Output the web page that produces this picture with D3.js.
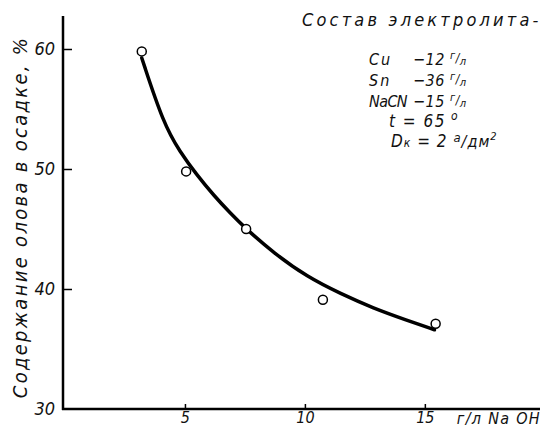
<!DOCTYPE html>
<html>
<head>
<meta charset="utf-8">
<script src="https://cdn.jsdelivr.net/npm/d3@7"></script>
<style>
body { margin: 0; background: #fff; }
text { font-family: "DejaVu Sans Condensed", "DejaVu Sans", sans-serif; font-style: italic; fill: #111; }
</style>
</head>
<body>
<div id="chart"></div>
<script>
// measured points (NaOH g/l, tin %)
var naoh = [3.2, 5.05, 7.55, 10.75, 15.45]
var tin = [59.8, 49.8, 45.0, 39.1, 37.1]

// smoothed curve
var curveX = [3.2, 4.1, 4.8, 5.5, 6.2, 6.9, 7.5, 8.7, 10.1, 11.5, 12.85, 14.25, 15.4]
var curveY = [59.25, 53.8, 51.4, 49.5, 47.8, 46.3, 45.1, 43.0, 41.0, 39.6, 38.4, 37.4, 36.6]

var xTicks = [5, 10, 15]
var yTicks = [30, 40, 50, 60]

var width = 559, height = 433

var svg = d3.select('#chart').append('svg')
  .attr('width', width)
  .attr('height', height)

var xScale = d3.scaleLinear().domain([0, 19.8]).range([65, 540])
var yScale = d3.scaleLinear().domain([30, 62.75]).range([409, 16])

// axis lines
svg.append('line')
  .attr('x1', 63).attr('x2', 63)
  .attr('y1', yScale(30) + 1).attr('y2', yScale(62.75))
  .attr('stroke', '#000').attr('stroke-width', 2.5)
svg.append('line')
  .attr('x1', 62).attr('x2', xScale(19.8))
  .attr('y1', yScale(30)).attr('y2', yScale(30))
  .attr('stroke', '#000').attr('stroke-width', 2.5)

// y ticks
var yAxis = d3.axisLeft(yScale).tickValues(yTicks).tickSize(-9).tickPadding(8)
var gy = svg.append('g').attr('transform', 'translate(63,0)').call(yAxis)
gy.select('.domain').remove()
gy.selectAll('.tick line').attr('stroke-width', 1.5)
gy.selectAll('.tick').filter(function(d){ return d == 30 }).select('line').remove()
gy.selectAll('.tick text').attr('font-size', '18px').attr('font-family', null)

// x ticks
var xAxis = d3.axisBottom(xScale).tickValues(xTicks).tickSize(-5).tickPadding(3)
var gx = svg.append('g').attr('transform', 'translate(0,' + yScale(30) + ')').call(xAxis)
gx.select('.domain').remove()
gx.selectAll('.tick line').attr('stroke-width', 1.5)
gx.selectAll('.tick text').attr('font-size', '16px').attr('font-family', null)

// axis titles
svg.append('text')
  .attr('transform', 'translate(27,' + 217 + ') rotate(-90)')
  .attr('text-anchor', 'middle')
  .attr('font-size', '20px')
  .attr('letter-spacing', '2.3px')
  .text('Содержание  олова  в  осадке, %')

svg.append('text')
  .attr('x', 541).attr('y', 424)
  .attr('text-anchor', 'end')
  .attr('font-size', '16px')
  .attr('letter-spacing', '1.3px')
  .text('г/л   Na OH')

// curve
var line = d3.line()
  .x(function(d){ return xScale(d[0]) })
  .y(function(d){ return yScale(d[1]) })
  .curve(d3.curveBasis)

svg.append('path')
  .datum(d3.zip(curveX, curveY))
  .attr('d', line)
  .attr('fill', 'none')
  .attr('stroke', '#000')
  .attr('stroke-width', 3.5)
  .attr('stroke-linecap', 'round')

// points
svg.selectAll('circle')
  .data(d3.zip(naoh, tin))
  .enter()
  .append('circle')
  .attr('cx', function(d){ return xScale(d[0]) })
  .attr('cy', function(d){ return yScale(d[1]) })
  .attr('r', 4.5)
  .attr('fill', '#fff')
  .attr('stroke', '#000')
  .attr('stroke-width', 1.5)

// composition note
var note = svg.append('g')
note.append('text').attr('x', 302).attr('y', 26).attr('font-size', '18px')
  .attr('letter-spacing', '3.2px').text('Состав  электролита-')

var rows = [
  {name: 'Cu', val: '−12', y: 65},
  {name: 'Sn', val: '−36', y: 86},
  {name: 'NaCN', val: '−15', y: 107}
]
rows.forEach(function(r){
  note.append('text').attr('x', 369).attr('y', r.y).attr('font-size', '16px')
    .attr('letter-spacing', r.name == 'NaCN' ? '-0.6px' : '2px').text(r.name)
  var t = note.append('text').attr('x', 413).attr('y', r.y).attr('font-size', '16px')
    .attr('letter-spacing', '0.5px')
  t.append('tspan').text(r.val + ' ')
  t.append('tspan').attr('font-size', '11px').attr('dy', -6).text('г')
  t.append('tspan').attr('font-size', '12px').attr('dy', 3).text('/')
  t.append('tspan').attr('font-size', '11px').attr('dy', 3).text('л')
})

var tt = note.append('text').attr('x', 389).attr('y', 127).attr('font-size', '17px')
  .attr('letter-spacing', '1.5px')
tt.append('tspan').text('t = 65')
tt.append('tspan').attr('font-size', '12px').attr('dy', -7).text(' о')

var dk = note.append('text').attr('x', 391).attr('y', 147).attr('font-size', '17px')
  .attr('letter-spacing', '1px')
dk.append('tspan').text('D')
dk.append('tspan').attr('font-size', '12px').text('к')
dk.append('tspan').text(' = 2 ')
dk.append('tspan').attr('font-size', '13px').attr('dy', -5).text('а')
dk.append('tspan').attr('font-size', '16px').attr('dy', 5).text('/дм')
dk.append('tspan').attr('font-size', '11px').attr('dy', -7).text('2')
</script>
</body>
</html>
